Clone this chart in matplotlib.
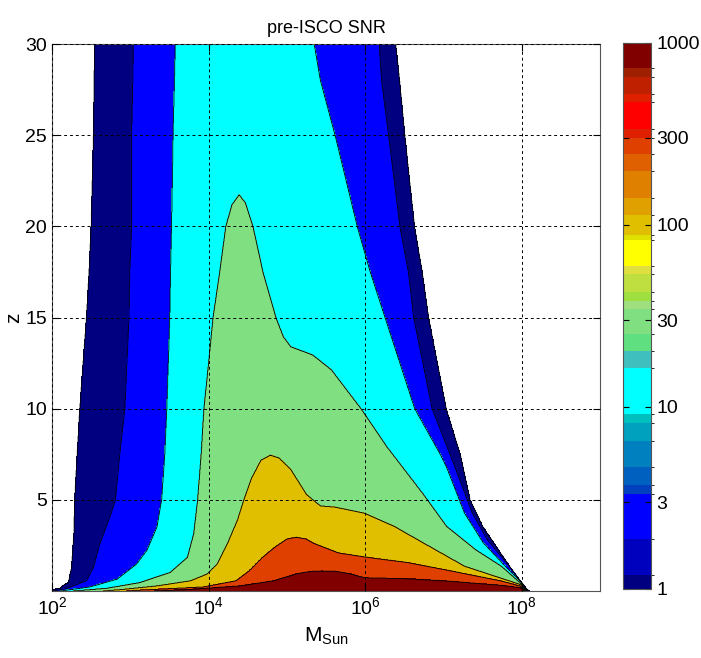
import numpy as np
import matplotlib
matplotlib.use("Agg")
import matplotlib.pyplot as plt
from matplotlib.path import Path
from matplotlib.colors import ListedColormap, BoundaryNorm
from matplotlib.cm import ScalarMappable
from matplotlib.ticker import FixedLocator, NullLocator, LogFormatterSciNotation

plt.rcParams['font.family'] = ['Liberation Sans', 'DejaVu Sans']
plt.rcParams['mathtext.fontset'] = 'custom'
plt.rcParams['mathtext.rm'] = 'Liberation Sans'
plt.rcParams['mathtext.it'] = 'Liberation Sans:italic'

# contour levels of the SNR map
snr_levels = [1, 3, 10, 30, 100, 300, 1000]
snr_labels = ['1', '3', '10', '30', '100', '300', '1000']

# outline of each region SNR >= level
# (log10 M, z): left edge going up, then right edge coming down
snr1_logm = [2.0, 2.03, 2.10, 2.16, 2.21, 2.25, 2.28, 2.29, 2.32, 2.355, 2.44, 2.473, 2.50, 2.53, 2.544,
             6.39, 6.44, 6.506, 6.63, 6.728, 6.81, 7.035, 7.22, 7.34, 7.50, 7.70, 7.93, 8.03, 8.07, 8.10]
snr1_z = [0, 0.09, 0.15, 0.36, 0.46, 1.3, 3.15, 5.0, 7.4, 10, 15, 17.5, 20, 25, 30,
          30, 28, 25, 20, 17.5, 15, 10, 7.4, 5.0, 3.55, 2.27, 0.82, 0.3, 0.09, 0]

snr3_logm = [2.02, 2.19, 2.44, 2.53, 2.61, 2.74, 2.81, 2.865, 2.93, 2.983, 2.993, 3.017, 3.017, 3.04,
             6.18, 6.21, 6.30, 6.444, 6.553, 6.62, 6.856, 7.13, 7.37, 7.56, 7.84, 8.0, 8.06, 8.08]
snr3_z = [0, 0.15, 0.56, 1.3, 2.59, 4.07, 5.0, 7.5, 10, 15, 17.5, 20, 25, 30,
          30, 28, 25, 20, 17.5, 15, 10, 7.0, 4.27, 2.82, 1.36, 0.45, 0.1, 0]

snr10_logm = [2.10, 2.48, 2.83, 3.08, 3.21, 3.34, 3.40, 3.44, 3.466, 3.504, 3.513, 3.527, 3.546, 3.575,
              5.35, 5.43, 5.617, 5.90, 6.066, 6.255, 6.634, 6.96, 7.04, 7.27, 7.51, 7.79, 7.98, 8.05, 8.07]
snr10_z = [0, 0.22, 0.65, 1.48, 2.22, 3.52, 5.0, 7.5, 10, 15, 17.5, 20, 25, 30,
           30, 28, 25, 20, 17.5, 15, 10, 7.5, 6.8, 4.27, 2.64, 1.36, 0.55, 0.1, 0]

snr30_logm = [2.27, 2.70, 3.12, 3.51, 3.73, 3.81, 3.86, 3.905, 3.94, 4.0, 4.057, 4.142, 4.22, 4.30, 4.39,
              4.47, 4.567, 4.695, 4.86, 4.955, 5.05, 5.33, 5.57, 5.853, 5.948, 6.28, 6.75, 7.04, 7.41,
              7.74, 7.98, 8.04, 8.06]
snr30_z = [0, 0.15, 0.46, 1.02, 1.85, 3.15, 5.0, 7.5, 10, 12.5, 15, 17.5, 20, 21.2, 21.74,
           21.3, 20, 17.5, 15, 13.95, 13.4, 12.95, 12.13, 10.53, 10, 7.9, 5.27, 3.55, 2.27,
           1.36, 0.45, 0.1, 0]

snr100_logm = [2.65, 2.91, 3.34, 3.77, 3.98, 4.11, 4.24, 4.37, 4.45, 4.55, 4.67, 4.79,
               4.90, 5.05, 5.25, 5.333, 5.43, 5.617, 5.99, 6.37, 6.8, 7.27, 7.98, 8.04, 8.05]
snr100_z = [0, 0.09, 0.28, 0.56, 0.93, 1.48, 2.6, 3.9, 5.0, 6.2, 7.18, 7.45,
            7.3, 6.67, 5.3, 5.0, 4.67, 4.6, 4.27, 3.55, 2.5, 1.36, 0.36, 0.1, 0]

snr300_logm = [2.95, 3.08, 3.93, 4.35, 4.52, 4.69, 4.86, 5.0, 5.12,
               5.25, 5.33, 5.66, 5.99, 6.56, 7.04, 7.74, 7.98, 8.03, 8.04]
snr300_z = [0, 0.04, 0.22, 0.56, 1.11, 1.85, 2.45, 2.85, 2.95,
            2.85, 2.64, 2.09, 1.87, 1.55, 1.15, 0.55, 0.27, 0.08, 0]

snr1000_logm = [3.3, 3.77, 4.40, 4.83, 5.14, 5.3, 5.45,
                5.62, 5.8, 5.99, 6.56, 7.04, 7.74, 7.98, 8.02, 8.03]
snr1000_z = [0, 0.09, 0.28, 0.56, 0.96, 1.07, 1.1,
             1.08, 0.95, 0.73, 0.67, 0.55, 0.31, 0.18, 0.05, 0]

outlines = [(snr1_logm, snr1_z), (snr3_logm, snr3_z), (snr10_logm, snr10_z), (snr30_logm, snr30_z),
            (snr100_logm, snr100_z), (snr300_logm, snr300_z), (snr1000_logm, snr1000_z)]

fill_colors = ['#000080', '#0000FF', '#00FFFF', '#80DF80', '#DFBF00', '#DF4000', '#800000']

# colorbar bands (log10 SNR edges) as shown in the picture
cbar_edges = [0, 0.075, 0.276, 0.52, 0.571, 0.667, 0.81, 0.909, 0.962, 1.211, 1.308, 1.40, 1.536,
              1.583, 1.633, 1.730, 1.774, 1.917, 1.945, 2.055, 2.150, 2.297, 2.389, 2.477, 2.528,
              2.675, 2.719, 2.811, 2.862, 3.0]
cbar_colors = ['#000080', '#0000BF', '#0000FF', '#0040BF', '#0060BF', '#0080BF', '#00A0BF', '#00BFBF',
               '#00FFFF', '#40BFBF', '#60DF80', '#80DF80', '#A0DF80', '#A0DF40', '#BFDF40', '#DFDF40',
               '#FFFF00', '#DFDF00', '#DFBF00', '#DFA000', '#DF8000', '#DF6000', '#DF4000', '#DF2000',
               '#FF0000', '#DF2000', '#BF2000', '#9F2000', '#800000']

# build a banded field from the outlines
lm = np.linspace(2, 9, 1401)
zz = np.linspace(0, 30, 1201)
LM, ZZ = np.meshgrid(lm, zz)
pts = np.column_stack([LM.ravel(), np.clip(ZZ.ravel(), 1e-3, 30 - 1e-3)])
band = np.zeros(LM.size)
for k, (xs, zs) in enumerate(outlines, start=1):
    verts = np.column_stack([xs + xs[:1], zs + zs[:1]])
    band[Path(verts).contains_points(pts)] = k
band = band.reshape(LM.shape)

fig = plt.figure(figsize=(7.01, 6.58), dpi=100)
ax = fig.add_axes([0.0742, 0.1018, 0.7817, 0.831])

M = 10 ** LM
ax.contourf(M, ZZ, band, levels=np.arange(0.5, 8.5, 1), colors=fill_colors)
ax.contour(M, ZZ, band, levels=np.arange(0.5, 7.5, 1), colors='k', linewidths=0.6)

ax.set_xscale('log')
ax.set_xlim(1e2, 1e9)
ax.set_ylim(0, 30)
ax.xaxis.set_major_locator(FixedLocator([1e2, 1e4, 1e6, 1e8]))
ax.xaxis.set_minor_locator(NullLocator())
ax.xaxis.set_major_formatter(LogFormatterSciNotation())
ax.set_yticks([5, 10, 15, 20, 25, 30])
ax.tick_params(direction='in', top=True, right=True, length=5, labelsize=14, width=0.8)
ax.grid(True, color='k', linestyle=(0, (3, 3)), linewidth=0.7)
ax.set_axisbelow(False)
for s in ax.spines.values():
    s.set_color('#555555')
    s.set_linewidth(0.8)

ax.set_title('pre-ISCO SNR', fontsize=13, pad=8)
ax.set_xlabel(r'M$_{\mathregular{Sun}}$', fontsize=15, labelpad=6)
ax.set_ylabel('z', fontsize=15, labelpad=2)

cax = fig.add_axes([0.889, 0.105, 0.040, 0.830])
sm = ScalarMappable(norm=BoundaryNorm(cbar_edges, len(cbar_colors)), cmap=ListedColormap(cbar_colors))
cb = fig.colorbar(sm, cax=cax, spacing='proportional', ticks=np.log10(snr_levels))
cb.set_ticklabels(snr_labels)
cb.outline.set_edgecolor('#555555')
cb.outline.set_linewidth(0.8)
cax.tick_params(direction='in', left=True, right=True, length=4, labelsize=14, width=0.8)

fig.savefig('out.png', dpi=100, facecolor='white')
